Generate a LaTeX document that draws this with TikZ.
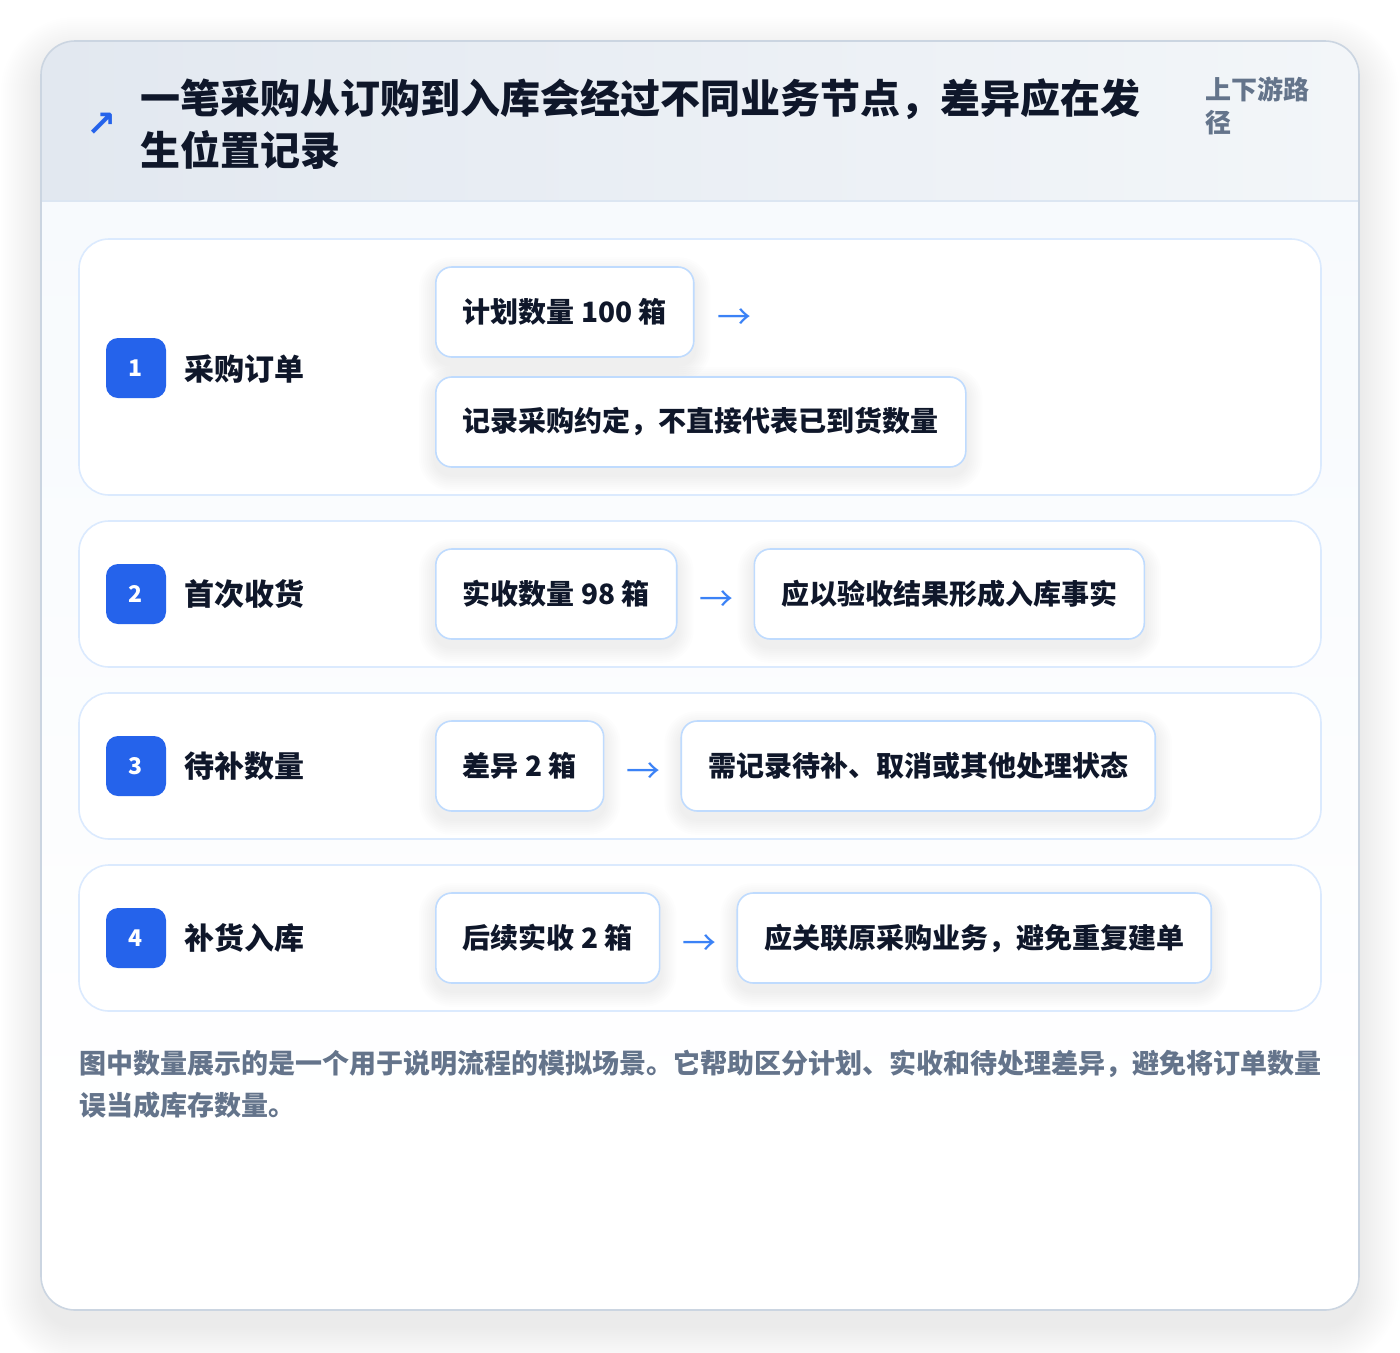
\documentclass[tikz,border=0pt]{standalone}
\usepackage{fontspec}
\setmainfont{Noto Sans CJK SC}
\newfontfamily\symfont{DejaVu Sans}
\definecolor{ink}{HTML}{0F172A}
\definecolor{muted}{HTML}{64748B}
\definecolor{brand}{HTML}{2563EB}
\definecolor{arrowc}{HTML}{3B82F6}
\definecolor{boxline}{HTML}{BFDBFE}
\definecolor{rowline}{HTML}{DBEAFE}
\definecolor{cardline}{HTML}{CBD5E1}
\definecolor{headL}{HTML}{E2E8F0}
\definecolor{headR}{HTML}{F3F6F9}
\definecolor{bodyT}{HTML}{F7FAFD}
\definecolor{headrule}{HTML}{DCE6F2}
\pgfdeclarelayer{bg}
\pgfdeclarelayer{shadow}
\pgfsetlayers{bg,shadow,main}
\newcommand{\dropshadow}[1]{%
  \foreach \k [evaluate=\k as \up using \k-7,
               evaluate=\k as \dn using -\k-7,
               evaluate=\k as \rc using 16+\k] in {2,4,...,16}{%
    \fill[black,opacity=0.0065,rounded corners=\rc pt]
      ([xshift=-\k pt,yshift=\up pt]#1.north west) rectangle
      ([xshift=\k pt,yshift=\dn pt]#1.south east);}}
\tikzset{
  rowbox/.style={draw=rowline,line width=1.6pt,fill=white,rounded corners=30pt,inner sep=0pt},
  badge/.style={fill=brand,rounded corners=12pt,minimum width=60pt,minimum height=60pt,inner sep=0pt,
    text=white,font=\bfseries\fontsize{23}{26}\selectfont},
  steplabel/.style={anchor=west,inner sep=0pt,text=ink,font=\bfseries\fontsize{30}{34}\selectfont},
  infobox/.style={draw=boxline,line width=1.6pt,fill=white,rounded corners=16pt,minimum height=90pt,
    inner xsep=27pt,inner ysep=0pt,text=ink,font=\bfseries\fontsize{28}{32}\selectfont},
  flowarrow/.style={inner sep=0pt,text=arrowc,font=\fontsize{34}{36}\selectfont}
}
\begin{document}
\begin{tikzpicture}[x=1pt,y=-1pt]
\useasboundingbox (0,0) rectangle (1400,1352);
\begin{pgfonlayer}{bg}
  \fill[white] (0,0) rectangle (1400,1352);
  % card shadow
  \foreach \k [evaluate=\k as \rc using 34+\k] in {2,4,...,40}{
    \fill[black,opacity=0.0045,rounded corners=\rc pt] (41-\k,41-\k+16) rectangle (1359+\k,1310+\k+16);}
  \begin{scope}
    \path[clip,rounded corners=34pt] (41,41) rectangle (1359,1310);
    \fill[white] (41,1150) rectangle (1359,1310);
    \shade[top color=bodyT,bottom color=white] (41,201) rectangle (1359,1150);
    \shade[left color=headL,right color=headR] (41,41) rectangle (1359,201);
    \draw[headrule,line width=1.5pt] (41,201) -- (1359,201);
  \end{scope}
  \draw[cardline,line width=1.6pt,rounded corners=34pt] (41,41) rectangle (1359,1310);
  % rows
  \node[rowbox,minimum width=1242pt,minimum height=256pt] (row1) at (700,367) {};
  \node[rowbox,minimum width=1242pt,minimum height=146pt] (row2) at (700,594) {};
  \node[rowbox,minimum width=1242pt,minimum height=146pt] (row3) at (700,766) {};
  \node[rowbox,minimum width=1242pt,minimum height=146pt] (row4) at (700,938) {};
\end{pgfonlayer}

% header
\node[inner sep=0pt,text=brand,font=\symfont\bfseries\fontsize{36}{38}\selectfont] (icon) at (102,125) {↗};
\node[anchor=west,inner sep=0pt,align=left,text=ink,font=\bfseries\fontsize{40}{52}\selectfont] (title) at (140,124)
  {一笔采购从订购到入库会经过不同业务节点，差异应在发\\生位置记录};
\node[anchor=west,inner sep=0pt,align=left,text=muted,font=\bfseries\fontsize{26}{33}\selectfont] (tag) at (1205,106)
  {上下游路\\径};

% row 1
\node[badge] (b1) at (136,368) {1};
\node[steplabel] (l1) at (184,369) {采购订单};
\node[infobox,anchor=west] (r1a) at (435,312) {计划数量 100 箱};
\node[flowarrow] (r1arr) at ([xshift=40pt,yshift=-7pt]r1a.east) {→};
\node[infobox,anchor=west] (r1b) at (435,422) {记录采购约定，不直接代表已到货数量};

% row 2
\node[badge] (b2) at (136,594) {2};
\node[steplabel] (l2) at (184,594) {首次收货};
\node[infobox,anchor=west] (r2a) at (435,594) {实收数量 98 箱};
\node[flowarrow] (r2arr) at ([xshift=39pt,yshift=-7pt]r2a.east) {→};
\node[infobox,anchor=west] (r2b) at ([xshift=76pt]r2a.east) {应以验收结果形成入库事实};

% row 3
\node[badge] (b3) at (136,766) {3};
\node[steplabel] (l3) at (184,766) {待补数量};
\node[infobox,anchor=west] (r3a) at (435,766) {差异 2 箱};
\node[flowarrow] (r3arr) at ([xshift=39pt,yshift=-7pt]r3a.east) {→};
\node[infobox,anchor=west] (r3b) at ([xshift=76pt]r3a.east) {需记录待补、取消或其他处理状态};

% row 4
\node[badge] (b4) at (136,938) {4};
\node[steplabel] (l4) at (184,938) {补货入库};
\node[infobox,anchor=west] (r4a) at (435,938) {后续实收 2 箱};
\node[flowarrow] (r4arr) at ([xshift=39pt,yshift=-7pt]r4a.east) {→};
\node[infobox,anchor=west] (r4b) at ([xshift=76pt]r4a.east) {应关联原采购业务，避免重复建单};

\begin{pgfonlayer}{shadow}
  \dropshadow{r1a}\dropshadow{r1b}
  \dropshadow{r2a}\dropshadow{r2b}
  \dropshadow{r3a}\dropshadow{r3b}
  \dropshadow{r4a}\dropshadow{r4b}
\end{pgfonlayer}

% footer
\node[anchor=west,inner sep=0pt,align=left,text=muted,font=\bfseries\fontsize{27}{42}\selectfont] (note) at (79,1084)
  {图中数量展示的是一个用于说明流程的模拟场景。它帮助区分计划、实收和待处理差异，避免将订单数量\\误当成库存数量。};
\end{tikzpicture}
\end{document}
